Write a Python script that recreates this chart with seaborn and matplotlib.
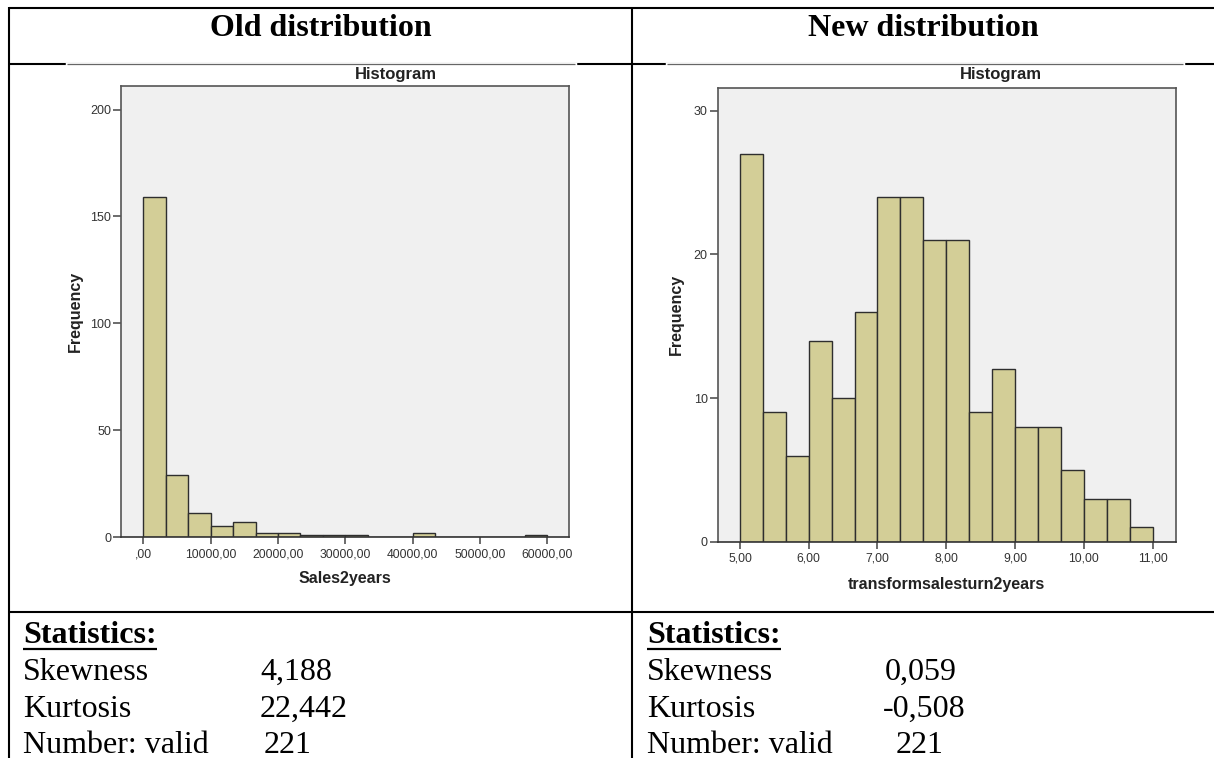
import numpy as np
import pandas as pd
import matplotlib
matplotlib.use("Agg")
import matplotlib.pyplot as plt
from matplotlib.lines import Line2D
import seaborn as sns

# ---------------- data ----------------
old_counts = [159, 29, 11, 5, 7, 2, 2, 1, 1, 1, 0, 0, 2, 0, 0, 0, 0, 1]
old_range = (0, 60000)
old_xticks = [0, 10000, 20000, 30000, 40000, 50000, 60000]
old_xticklabels = [",00", "10000,00", "20000,00", "30000,00", "40000,00", "50000,00", "60000,00"]
old_yticks = [0, 50, 100, 150, 200]
old_xlabel = "Sales2years"

new_counts = [27, 9, 6, 14, 10, 16, 24, 24, 21, 21, 9, 12, 8, 8, 5, 3, 3, 1]
new_range = (5, 11)
new_xticks = [5, 6, 7, 8, 9, 10, 11]
new_xticklabels = ["5,00", "6,00", "7,00", "8,00", "9,00", "10,00", "11,00"]
new_yticks = [0, 10, 20, 30]
new_xlabel = "transformsalesturn2years"

headers = ["Old distribution", "New distribution"]
stat_names = ["Skewness", "Kurtosis", "Number: valid"]
old_stats = ["4,188", "22,442", "221"]
new_stats = ["0,059", "-0,508", "221"]

# ---------------- layout helpers ----------------
W, H = 1214, 758
fig = plt.figure(figsize=(W / 100, H / 100), dpi=100)
fig.patch.set_facecolor("white")


def fx(x):
    return x / W


def fy(y):
    return 1 - y / H


def hline(x0, x1, y, color="black", lw=1.5):
    fig.add_artist(Line2D([fx(x0), fx(x1)], [fy(y), fy(y)], color=color, lw=lw,
                          solid_capstyle="butt"))


def vline(x, y0, y1, color="black", lw=1.5):
    fig.add_artist(Line2D([fx(x), fx(x)], [fy(y0), fy(y1)], color=color, lw=lw,
                          solid_capstyle="butt"))


BAR = "#D3CE97"
EDGE = "#2e2e2e"
FRAME = "#555555"
BG = "#F0F0F0"
TXT = "#222222"
SANS = "Liberation Sans"
SERIF = "Liberation Serif"
SERIF_SIZE = 23


def spss_hist(rect, counts, rng, xticks, xticklabels, yticks, ylim, xpad, xlabel,
              title_x, title_y, xlabel_y, ylabel_x):
    x0, y0, x1, y1 = rect
    ax = fig.add_axes([fx(x0), fy(y1), (x1 - x0) / W, (y1 - y0) / H])
    edges = np.linspace(rng[0], rng[1], len(counts) + 1)
    df = pd.DataFrame({"x": (edges[:-1] + edges[1:]) / 2,
                       "w": np.asarray(counts, dtype=float)})
    sns.histplot(data=df, x="x", weights="w", bins=list(edges), ax=ax,
                 color=BAR, edgecolor=EDGE, linewidth=1.0, alpha=1)
    ax.set_facecolor(BG)
    ax.set_xlim(rng[0] - xpad[0], rng[1] + xpad[1])
    ax.set_ylim(*ylim)
    ax.set_xticks(xticks)
    ax.set_xticklabels(xticklabels)
    ax.set_yticks(yticks)
    ax.set_yticklabels([str(v) for v in yticks])
    ax.tick_params(axis="x", direction="out", length=5, width=1.1, color="#444444",
                   labelsize=8.7, labelcolor="#333333", pad=3)
    ax.tick_params(axis="y", direction="out", length=6, width=1.1, color="#444444",
                   labelsize=9, labelcolor="#333333", pad=1)
    for lab in ax.get_xticklabels() + ax.get_yticklabels():
        lab.set_family(SANS)
    for s in ax.spines.values():
        s.set_color(FRAME)
        s.set_linewidth(1.2)
    ax.spines["bottom"].set_color("#333333")
    ax.set_xlabel("")
    ax.set_ylabel("")
    ax.grid(False)
    fig.text(fx(title_x), fy(title_y), "Histogram", ha="center", va="center",
             fontsize=12, fontweight="bold", family=SANS, color=TXT)
    fig.text(fx((x0 + x1) / 2), fy(xlabel_y), xlabel, ha="center", va="center",
             fontsize=11.5, fontweight="bold", family=SANS, color=TXT)
    fig.text(fx(ylabel_x), fy((y0 + y1) / 2), "Frequency", ha="center", va="center",
             rotation=90, fontsize=11.5, fontweight="bold", family=SANS, color=TXT)
    return ax


# ---------------- table lines ----------------
hline(9, W, 7.5)
vline(9, 6.5, H)
vline(632, 6.5, H)
hline(9, W, 64)
hline(9, W, 612)
# chart image top borders (grey) over the row line
fig.add_artist(Line2D([fx(67), fx(575)], [fy(64), fy(64)], color="white", lw=2.5))
fig.add_artist(Line2D([fx(667), fx(1183)], [fy(64), fy(64)], color="white", lw=2.5))
hline(67, 575, 64, color="#666666", lw=0.9)
hline(667, 1183, 64, color="#666666", lw=0.9)

# ---------------- headers ----------------
fig.text(fx(320.5), fy(36), headers[0], ha="center", va="baseline", fontsize=SERIF_SIZE,
         fontweight="bold", family=SERIF, color="black")
fig.text(fx(923), fy(36), headers[1], ha="center", va="baseline", fontsize=SERIF_SIZE,
         fontweight="bold", family=SERIF, color="black")

# ---------------- charts ----------------
spss_hist((121, 86, 569, 537), old_counts, old_range, old_xticks, old_xticklabels,
          old_yticks, (0, 211), (3310, 3200), old_xlabel,
          title_x=396, title_y=74, xlabel_y=578, ylabel_x=75)
spss_hist((717.5, 87.5, 1175.7, 541.8), new_counts, new_range, new_xticks,
          new_xticklabels, new_yticks, (0, 31.6), (0.327, 0.337), new_xlabel,
          title_x=1001, title_y=74, xlabel_y=584, ylabel_x=676)

# ---------------- statistics ----------------
stat_texts = []
for sx, vals, vx in [(23, old_stats, [260, 260, 264]), (647, new_stats, [885, 883, 896])]:
    t = fig.text(fx(sx), fy(643), "Statistics:", ha="left", va="baseline",
                 fontsize=SERIF_SIZE, fontweight="bold", family=SERIF, color="black")
    stat_texts.append(t)
    for i, (name, v) in enumerate(zip(stat_names, vals)):
        yb = [680, 717, 753][i]
        fig.text(fx(sx), fy(yb), name, ha="left", va="baseline", fontsize=SERIF_SIZE,
                 family=SERIF, color="black")
        fig.text(fx(vx[i]), fy(yb), v, ha="left", va="baseline", fontsize=SERIF_SIZE,
                 family=SERIF, color="black")

fig.canvas.draw()
renderer = fig.canvas.get_renderer()
for t in stat_texts:
    bb = t.get_window_extent(renderer)
    fig.add_artist(Line2D([bb.x0 / W, bb.x1 / W], [fy(648.5), fy(648.5)], color="black",
                          lw=1.6, solid_capstyle="butt"))

fig.savefig("out.png", dpi=100, facecolor="white")
